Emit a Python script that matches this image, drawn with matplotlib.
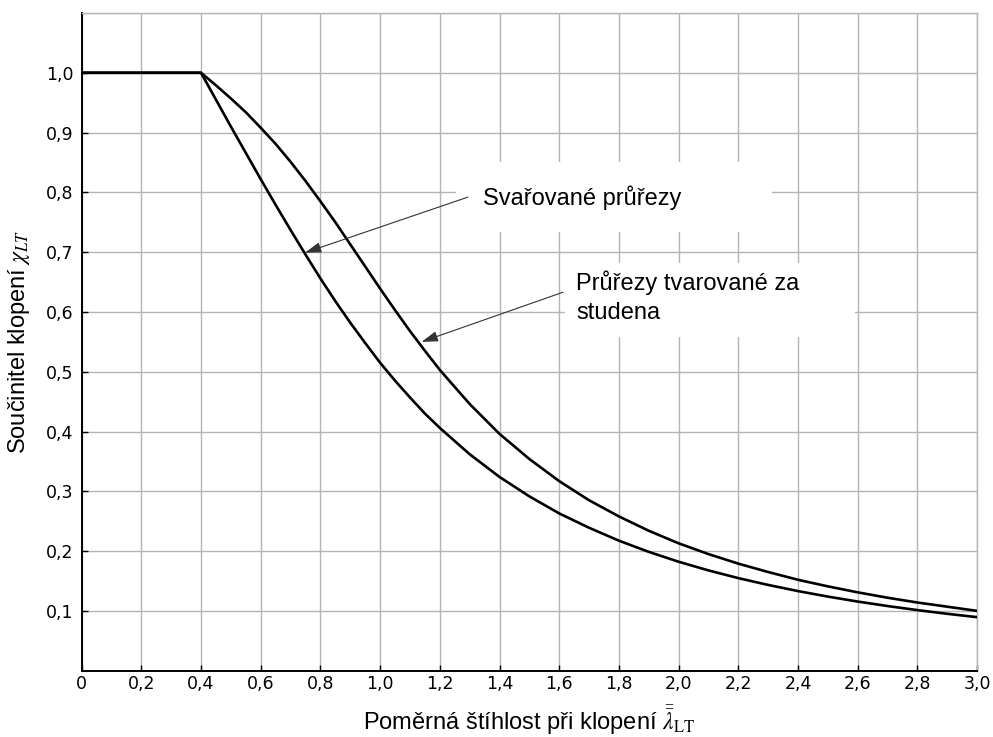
import matplotlib
matplotlib.use("Agg")
import matplotlib.pyplot as plt
from matplotlib.patches import Rectangle

# Data
lam = [0.0, 0.4, 0.45, 0.5, 0.55, 0.6, 0.65, 0.7, 0.75, 0.8, 0.85, 0.9, 0.95,
       1.0, 1.05, 1.1, 1.15, 1.2, 1.3, 1.4, 1.5, 1.6, 1.7, 1.8, 1.9, 2.0,
       2.1, 2.2, 2.3, 2.4, 2.5, 2.6, 2.7, 2.8, 2.9, 3.0]
chi_cold = [1.0, 1.0, 0.979, 0.957, 0.934, 0.908, 0.881, 0.851, 0.819, 0.785,
            0.750, 0.713, 0.676, 0.639, 0.603, 0.568, 0.535, 0.503,
            0.446, 0.396, 0.354, 0.317, 0.285, 0.258, 0.234, 0.213,
            0.195, 0.179, 0.165, 0.152, 0.141, 0.131, 0.122, 0.114, 0.107, 0.100]
chi_welded = [1.0, 1.0, 0.955, 0.910, 0.866, 0.822, 0.779, 0.737, 0.696, 0.656,
              0.618, 0.582, 0.548, 0.515, 0.485, 0.457, 0.430, 0.406,
              0.362, 0.324, 0.2915, 0.263, 0.239, 0.2174, 0.1987, 0.1822,
              0.1677, 0.1548, 0.1434, 0.1331, 0.1239, 0.1156, 0.1081, 0.1013,
              0.0951, 0.0895]

xticks = [0.0, 0.2, 0.4, 0.6, 0.8, 1.0, 1.2, 1.4, 1.6, 1.8, 2.0, 2.2, 2.4, 2.6, 2.8, 3.0]
xtick_labels = ["0", "0,2", "0,4", "0,6", "0,8", "1,0", "1,2", "1,4", "1,6", "1,8",
                "2,0", "2,2", "2,4", "2,6", "2,8", "3,0"]
yticks = [0.1, 0.2, 0.3, 0.4, 0.5, 0.6, 0.7, 0.8, 0.9, 1.0]
ytick_labels = ["0,1", "0,2", "0,3", "0,4", "0,5", "0,6", "0,7", "0,8", "0,9", "1,0"]

label_welded = "Svařované průřezy"
label_cold = ["Průřezy tvarované za", "studena"]

plt.rcParams['mathtext.fontset'] = 'stix'

fig = plt.figure(figsize=(9.93, 7.37), dpi=100)
ax = fig.add_axes([0.0822, 0.09, 0.984 - 0.0822, 0.9824 - 0.09])
ax.set_xlim(0, 3.0)
ax.set_ylim(0, 1.1)
ax.set_axisbelow(True)

ax.set_xticks(xticks)
ax.set_xticklabels(xtick_labels)
ax.set_yticks(yticks)
ax.set_yticklabels(ytick_labels)
ax.set_yticks([1.1], minor=True)
ax.grid(True, which='both', color='#b4b4b4', lw=1.0)
ax.tick_params(which='minor', length=0)
ax.tick_params(which='major', direction='in', length=4, width=1.0, color='black',
               labelsize=12.5)
ax.tick_params(axis='x', pad=3)
ax.tick_params(axis='y', pad=6)
for lbl in ax.get_xticklabels() + ax.get_yticklabels():
    lbl.set_family(['Liberation Sans Narrow', 'DejaVu Sans'])

for s in ['left', 'bottom']:
    ax.spines[s].set_linewidth(1.4)
    ax.spines[s].set_color('black')
for s in ['top', 'right']:
    ax.spines[s].set_linewidth(1.0)
    ax.spines[s].set_color('#b4b4b4')

# white label boxes hiding the grid
ax.add_patch(Rectangle((1.254, 0.734), 2.313 - 1.254, 0.850 - 0.734,
                       facecolor='white', edgecolor='none', zorder=1))
ax.add_patch(Rectangle((1.619, 0.558), 2.591 - 1.619, 0.682 - 0.558,
                       facecolor='white', edgecolor='none', zorder=1))

ax.plot(lam, chi_cold, color='black', lw=1.9, zorder=3, solid_joinstyle='round')
ax.plot(lam, chi_welded, color='black', lw=1.9, zorder=3, solid_joinstyle='round')

arrow_style = dict(arrowstyle='-|>,head_length=1.0,head_width=0.32', color='#333333',
                   lw=0.8, shrinkA=0, shrinkB=0)
ax.annotate('', xy=(0.748, 0.699), xytext=(1.294, 0.792), arrowprops=arrow_style,
            zorder=4)
ax.annotate('', xy=(1.139, 0.550), xytext=(1.613, 0.633), arrowprops=arrow_style,
            zorder=4)

tfont = dict(family=['Liberation Sans', 'DejaVu Sans'], fontsize=17, color='black')
ax.text(1.345, 0.778, label_welded, va='baseline', ha='left', zorder=5, **tfont)
ax.text(1.656, 0.637, label_cold[0], va='baseline', ha='left', zorder=5, **tfont)
ax.text(1.656, 0.588, label_cold[1], va='baseline', ha='left', zorder=5, **tfont)

ax.set_xlabel(r"Poměrná štíhlost při klopení $\bar{\bar{\lambda}}_{\mathrm{LT}}$",
              family=['Liberation Sans', 'DejaVu Sans'], fontsize=17, labelpad=8)
ax.set_ylabel(r"Součinitel klopení $\chi_{LT}$",
              family=['Liberation Sans', 'DejaVu Sans'], fontsize=17, labelpad=10)

fig.savefig("out.png", dpi=100)
